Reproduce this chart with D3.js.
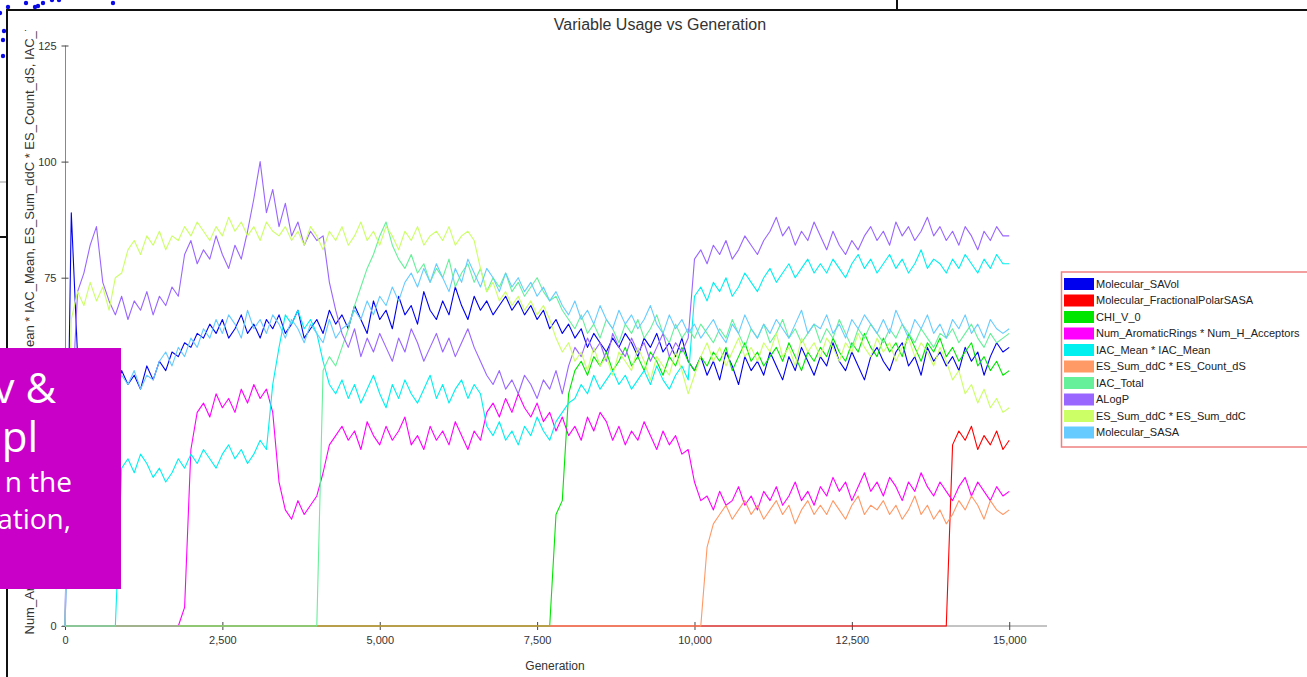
<!DOCTYPE html>
<html>
<head>
<meta charset="utf-8">
<script src="https://cdn.jsdelivr.net/npm/d3@7"></script>
<style>
  html, body { margin: 0; padding: 0; background: #fff; overflow: hidden; }
  svg { display: block; }
</style>
</head>
<body>
<svg id="chart" width="1307" height="677"></svg>
<script>
// Sampled every 100 generations, 0 .. 15,000
const generations = d3.range(0, 15001, 100);

const molecularSAVol = [
  0,89,58,52,55,51,54,53,50,55, 52,54,51,56,53,57,55,59,58,61,
  60,63,62,65,63,66,62,64,67,63, 65,62,66,64,67,63,65,68,62,64,
  66,63,68,65,67,64,69,66,63,70, 66,68,64,71,67,69,65,72,68,66,
  70,67,73,69,66,71,68,70,67,69, 71,68,70,67,69,66,68,64,66,63,
  65,62,64,60,63,61,59,62,60,63, 61,58,62,60,63,59,61,58,62,57,
  55,58,54,57,53,59,56,52,58,55, 57,54,59,56,53,58,55,60,57,54,
  58,56,61,57,55,59,56,53,58,60, 57,55,59,61,56,58,54,60,57,59,
  56,58,55,60,57,59,54,58,61,59, 60
];
const molecularFractionalPolarSASA = [
  0,0,0,0,0,0,0,0,0,0, 0,0,0,0,0,0,0,0,0,0,
  0,0,0,0,0,0,0,0,0,0, 0,0,0,0,0,0,0,0,0,0,
  0,0,0,0,0,0,0,0,0,0, 0,0,0,0,0,0,0,0,0,0,
  0,0,0,0,0,0,0,0,0,0, 0,0,0,0,0,0,0,0,0,0,
  0,0,0,0,0,0,0,0,0,0, 0,0,0,0,0,0,0,0,0,0,
  0,0,0,0,0,0,0,0,0,0, 0,0,0,0,0,0,0,0,0,0,
  0,0,0,0,0,0,0,0,0,0, 0,0,0,0,0,0,0,0,0,0,
  0,39,42,40,43,38,41,39,42,38, 40
];
const chiV0 = [
  0,0,0,0,0,0,0,0,0,0, 0,0,0,0,0,0,0,0,0,0,
  0,0,0,0,0,0,0,0,0,0, 0,0,0,0,0,0,0,0,0,0,
  0,0,0,0,0,0,0,0,0,0, 0,0,0,0,0,0,0,0,0,0,
  0,0,0,0,0,0,0,0,0,0, 0,0,0,0,0,0,0,0,24,27,
  50,55,57,54,58,56,59,55,57,60, 56,58,55,59,57,54,58,56,60,57,
  55,58,56,59,57,60,55,58,61,57, 59,56,58,60,57,61,58,55,59,57,
  60,58,62,59,57,61,59,63,60,58, 62,59,61,58,63,60,57,61,59,62,
  58,60,57,59,61,56,58,55,57,54, 55
];
const aromaticRingsTimesHAcceptors = [
  0,0,0,0,0,0,0,0,0,0, 0,0,0,0,0,0,0,0,0,4,
  38,46,48,45,50,47,49,46,51,48, 52,49,51,46,31,25,23,27,24,26,
  28,33,39,41,43,40,42,38,44,41, 39,43,40,42,45,39,41,38,43,40,
  42,39,44,41,38,42,40,46,48,45, 49,46,50,47,45,48,44,46,42,45,
  41,43,40,45,42,46,44,40,43,39, 42,40,44,41,38,42,39,41,37,38,
  31,27,28,25,29,26,27,30,26,28, 25,29,27,30,26,28,31,27,29,26,
  30,28,32,29,31,27,30,33,29,31, 28,32,30,27,31,29,33,30,28,31,
  29,27,30,32,28,31,29,27,30,28, 29
];
const iacMeanSquared = [
  0,0,0,0,0,0,0,0,0,34, 36,33,37,35,32,34,31,33,36,34,
  37,35,38,36,34,37,39,36,38,35, 37,40,38,52,60,67,65,68,64,66,
  63,57,52,50,53,49,52,48,51,54, 50,47,52,49,53,50,48,51,54,49,
  52,48,51,53,49,52,50,43,41,44, 40,42,39,43,41,45,42,40,44,46,
  48,49,52,50,54,51,53,55,52,54, 51,53,55,52,56,53,51,54,56,53,
  71,73,70,74,72,75,71,73,76,74, 72,75,77,74,76,78,75,77,79,76,
  78,76,79,77,75,78,80,77,79,76, 78,80,77,79,76,78,81,77,79,78,
  76,79,77,80,78,76,79,77,80,78, 78
];
const esSumDdCTimesCountDS = [
  0,0,0,0,0,0,0,0,0,0, 0,0,0,0,0,0,0,0,0,0,
  0,0,0,0,0,0,0,0,0,0, 0,0,0,0,0,0,0,0,0,0,
  0,0,0,0,0,0,0,0,0,0, 0,0,0,0,0,0,0,0,0,0,
  0,0,0,0,0,0,0,0,0,0, 0,0,0,0,0,0,0,0,0,0,
  0,0,0,0,0,0,0,0,0,0, 0,0,0,0,0,0,0,0,0,0,
  0,0,17,22,24,26,23,25,27,24, 26,23,25,27,24,26,22,25,27,24,
  26,24,27,25,23,26,28,24,26,25, 27,24,26,23,25,28,24,26,23,25,
  22,24,27,25,28,26,23,27,25,24, 25
];
const iacTotal = [
  0,0,0,0,0,0,0,0,0,0, 0,0,0,0,0,0,0,0,0,0,
  0,0,0,0,0,0,0,0,0,0, 0,0,0,0,0,0,0,0,0,0,
  0,55,58,56,60,64,69,73,77,80, 84,87,82,79,77,80,76,78,74,77,
  75,79,73,76,78,74,77,72,75,73, 76,72,74,71,73,75,72,70,71,68,
  66,64,67,63,65,62,66,64,61,65, 63,66,62,64,67,63,61,65,62,64,
  62,65,63,61,64,62,66,63,60,64, 62,65,61,63,66,62,64,61,63,65,
  61,64,62,66,63,60,64,62,65,63, 61,64,62,65,63,61,64,62,60,63,
  62,64,61,63,65,62,60,63,61,62, 63
];
const aLogP = [
  0,45,72,76,82,86,74,70,67,71, 66,70,68,72,67,71,69,73,71,80,
  83,78,81,79,84,80,77,82,79,85, 92,100,89,94,86,91,84,87,82,85,
  83,84,74,68,63,60,64,58,62,59, 63,60,57,62,59,64,61,57,60,63,
  59,62,58,61,64,60,57,54,52,55, 51,53,50,54,52,49,53,51,55,50,
  56,60,58,62,59,61,57,63,60,58, 62,59,61,57,60,63,58,61,59,62,
  79,81,78,82,80,83,79,81,84,82, 80,83,85,88,84,86,82,85,83,87,
  84,81,85,82,80,83,81,84,86,83, 85,82,87,84,86,83,85,88,84,86,
  83,85,82,86,84,81,85,83,86,84, 84
];
const esSumDdCSquared = [
  0,66,72,69,74,70,73,68,75,76, 81,83,80,84,82,85,81,84,83,86,
  84,87,85,83,86,84,88,85,87,84, 86,83,87,85,84,86,83,85,82,86,
  84,81,85,83,86,82,84,87,83,85, 82,86,84,81,85,83,86,82,84,85,
  83,86,82,84,85,83,77,72,74,70, 72,69,71,68,70,67,69,66,62,59,
  61,57,59,55,60,56,58,54,59,57, 55,60,57,53,58,56,54,59,55,50,
  54,58,61,57,60,56,59,62,58,60, 57,61,59,63,58,60,56,62,59,61,
  58,62,60,57,61,59,63,60,58,62, 59,61,57,60,62,58,61,59,56,60,
  57,53,55,50,52,48,51,47,49,46, 47
];
const molecularSASA = [
  0,48,54,51,55,52,56,53,50,54, 52,55,51,54,53,57,59,56,60,58,
  62,60,64,62,66,63,67,65,62,68, 64,66,63,67,65,62,66,64,61,65,
  63,61,66,62,64,65,68,66,70,67, 71,69,73,70,74,76,73,77,74,78,
  75,72,77,74,79,76,73,77,75,72, 76,73,75,72,74,71,73,70,72,69,
  67,70,66,68,65,69,66,64,68,65, 67,64,66,69,65,63,67,64,66,63,
  65,62,64,66,63,61,65,63,67,64, 62,65,63,66,64,62,65,68,63,65,
  64,67,63,65,62,66,64,67,65,63, 66,63,68,65,62,66,64,67,63,65,
  62,66,64,67,63,65,62,66,64,63, 64
];

const seriesNames = [
  "Molecular_SAVol",
  "Molecular_FractionalPolarSASA",
  "CHI_V_0",
  "Num_AromaticRings * Num_H_Acceptors",
  "IAC_Mean * IAC_Mean",
  "ES_Sum_ddC * ES_Count_dS",
  "IAC_Total",
  "ALogP",
  "ES_Sum_ddC * ES_Sum_ddC",
  "Molecular_SASA"
];
const seriesValues = [
  molecularSAVol, molecularFractionalPolarSASA, chiV0, aromaticRingsTimesHAcceptors,
  iacMeanSquared, esSumDdCTimesCountDS, iacTotal, aLogP, esSumDdCSquared, molecularSASA
];
const seriesColors = [
  "#0000ee", "#ff0000", "#00e600", "#ff00ff", "#00f0f0",
  "#ff9966", "#66f099", "#9966ff", "#ccff66", "#66ccff"
];

const yTickValues = [0, 25, 50, 75, 100, 125];
const xTickValues = [0, 2500, 5000, 7500, 10000, 12500, 15000];

const chartTitle = "Variable Usage vs Generation";
const xAxisTitle = "Generation";
const yAxisTitle = "Num_AromaticRings * Num_H_Acceptors, IAC_Mean * IAC_Mean, ES_Sum_ddC * ES_Count_dS, IAC_Total, ALogP";

// Slide elements around the chart
const slideDots = [[0,13],[8,7],[26,3],[35,7],[38,6],[43,3],[52,0],[59,0],[113,3],[4,31],[3,40],[3,56]];
const calloutLines = [
  { text: "v &", size: 42, x: 56, y: 403 },
  { text: "pl", size: 42, x: 38, y: 452 },
  { text: "n the", size: 28, x: 72, y: 492 },
  { text: "ation,", size: 28, x: 71, y: 529 }
];

const FONT = "'Liberation Sans', Arial, sans-serif";
const svg = d3.select("#chart");

const x = d3.scaleLinear().domain([0, 15600]).range([65, 1047]);
const y = d3.scaleLinear().domain([0, 125]).range([626, 45.5]);

// dots of the slide beneath
svg.append("g").selectAll("circle").data(slideDots).join("circle")
  .attr("cx", d => d[0]).attr("cy", d => d[1]).attr("r", 2.2).attr("fill", "#0a0ae6");

// chart frame
svg.append("rect").attr("x", 7).attr("y", 10).attr("width", 1310).attr("height", 680).attr("fill", "#fff");
svg.append("path").attr("d", "M7,690 V10 H1310").attr("fill", "none").attr("stroke", "#111").attr("stroke-width", 2);
svg.append("line").attr("x1", 897).attr("x2", 897).attr("y1", 0).attr("y2", 10).attr("stroke", "#111").attr("stroke-width", 2);
svg.append("line").attr("x1", 0).attr("x2", 6).attr("y1", 182).attr("y2", 182).attr("stroke", "#999").attr("stroke-width", 1);
svg.append("line").attr("x1", 0).attr("x2", 6).attr("y1", 237).attr("y2", 237).attr("stroke", "#111").attr("stroke-width", 2);

// title
svg.append("text").attr("x", 660).attr("y", 30).attr("text-anchor", "middle")
  .attr("font-family", FONT).attr("font-size", 16).attr("fill", "#333").text(chartTitle);

// y axis
const yAxis = svg.append("g").attr("transform", "translate(65.5,0)")
  .call(d3.axisLeft(y).tickValues(yTickValues).tickSize(3).tickPadding(6));
yAxis.select(".domain").attr("stroke", "#888").attr("d", `M0,${y(125)}V${y(0)}`);
yAxis.selectAll(".tick line").attr("stroke", "#444").attr("x1", 3).attr("x2", -4);
yAxis.selectAll(".tick text").attr("font-family", FONT).attr("font-size", 11).attr("fill", "#333");

// x axis
const xAxis = svg.append("g").attr("transform", "translate(0,626)")
  .call(d3.axisBottom(x).tickValues(xTickValues).tickFormat(d3.format(",")).tickSize(4).tickPadding(6));
xAxis.select(".domain").attr("stroke", "#888").attr("d", `M62,0H1047`);
xAxis.selectAll(".tick line").attr("stroke", "#444").attr("y1", -4).attr("y2", 4);
xAxis.selectAll(".tick text").attr("font-family", FONT).attr("font-size", 11).attr("fill", "#333");

svg.append("text").attr("x", 555).attr("y", 666).attr("dy", "0.35em").attr("text-anchor", "middle")
  .attr("font-family", FONT).attr("font-size", 12).attr("fill", "#333").text(xAxisTitle);

// y axis title: too long for the axis, so it is clipped to the chart's height
svg.append("clipPath").attr("id", "ytitle-clip")
  .append("rect").attr("x", 0).attr("y", 30).attr("width", 60).attr("height", 611);
const yTitle = svg.append("g").attr("clip-path", "url(#ytitle-clip)")
  .append("text").attr("dy", "0.35em")
  .attr("font-family", FONT).attr("font-size", 13).attr("fill", "#333").text(yAxisTitle);
{
  // the second "IAC_Mean" starts level with 67.4 on the value axis
  const node = yTitle.node();
  const k = yAxisTitle.indexOf("* IAC_Mean") + 2;
  const offset = node.getSubStringLength(0, k);
  yTitle.attr("transform", `translate(29,${y(67.4) + offset}) rotate(-90)`);
}

// series lines
const line = d3.line().x((d, i) => x(generations[i])).y(d => y(d));
svg.append("g").selectAll("path").data(seriesValues).join("path")
  .attr("d", d => line(d))
  .attr("fill", "none")
  .attr("stroke", (d, i) => seriesColors[i])
  .attr("stroke-width", 1.1)
  .attr("stroke-linejoin", "round");

// legend
const legend = svg.append("g");
legend.append("rect").attr("x", 1061.5).attr("y", 272).attr("width", 270).attr("height", 175)
  .attr("fill", "#fff").attr("stroke", "#ef8080").attr("stroke-width", 1.5);
const rows = legend.selectAll("g.row").data(seriesNames).join("g").attr("class", "row")
  .attr("transform", (d, i) => `translate(1064,${278 + i * 16.5})`);
rows.append("rect").attr("width", 30).attr("height", 12).attr("fill", (d, i) => seriesColors[i]);
rows.append("text").attr("x", 32).attr("y", 6).attr("dy", "0.35em")
  .attr("font-family", FONT).attr("font-size", 11).attr("fill", "#222").text(d => d);

// callout box over the chart's left edge
const callout = svg.append("g");
callout.append("rect").attr("x", 0).attr("y", 348).attr("width", 121).attr("height", 241).attr("fill", "#c800c8");
callout.selectAll("text").data(calloutLines).join("text")
  .attr("x", d => d.x).attr("y", d => d.y).attr("text-anchor", "end")
  .attr("font-family", "'Open Sans', 'Noto Sans', sans-serif").attr("font-size", d => d.size)
  .attr("fill", "#fff").text(d => d.text);
</script>
</body>
</html>
